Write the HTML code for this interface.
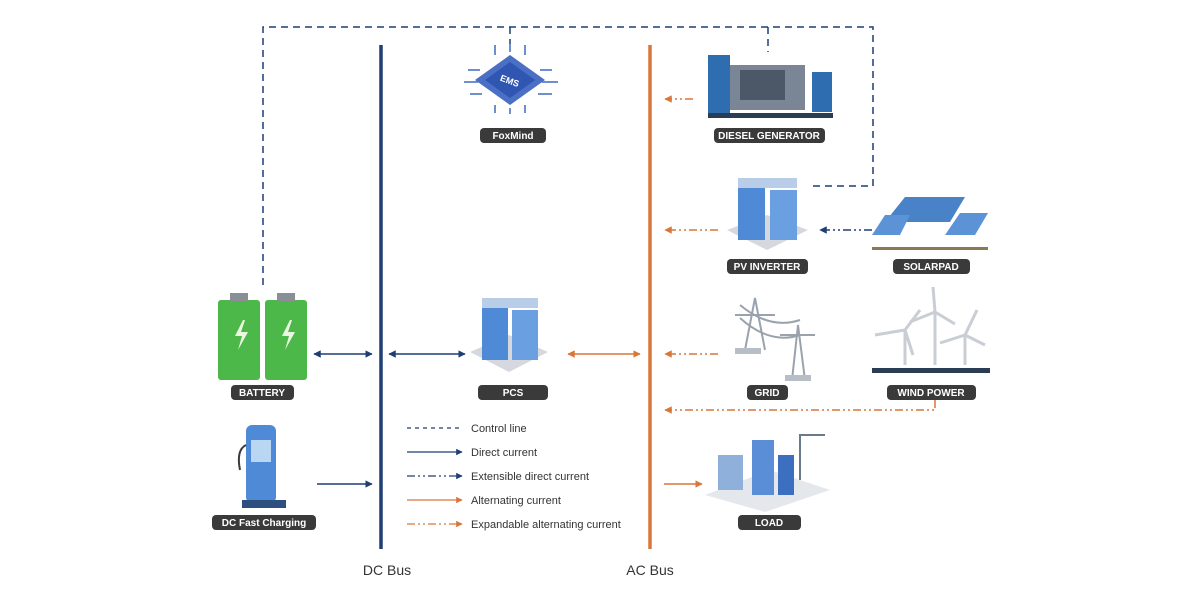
<!DOCTYPE html>
<html><head><meta charset="utf-8"><style>
html,body{margin:0;padding:0;background:#fff;}
svg{display:block;font-family:"Liberation Sans",sans-serif;}
.lb{fill:#3a3a3a;}
.lt{fill:#fff;font-size:10px;font-weight:bold;text-anchor:middle;}
.lg{fill:#333;font-size:11px;}
</style></head><body>
<svg width="1200" height="600" viewBox="0 0 1200 600" xmlns="http://www.w3.org/2000/svg">
<defs>
<marker id="an" viewBox="0 0 10 10" refX="9" refY="5" markerWidth="5" markerHeight="5" orient="auto-start-reverse"><path d="M0 0L10 5L0 10z" fill="#1f3f73"/></marker>
<marker id="ao" viewBox="0 0 10 10" refX="9" refY="5" markerWidth="5" markerHeight="5" orient="auto-start-reverse"><path d="M0 0L10 5L0 10z" fill="#d9773a"/></marker>
</defs>
<!-- control line -->
<g stroke="#1f3f73" stroke-width="1.5" fill="none" stroke-dasharray="7 5">
<path d="M263 285V27H873V186H808"/>
<path d="M510 27V52"/><path d="M768 27V52"/>
</g>
<!-- buses -->
<line x1="381" y1="45" x2="381" y2="549" stroke="#1f3f73" stroke-width="3.5"/>
<line x1="650" y1="45" x2="650" y2="549" stroke="#d9773a" stroke-width="3.5"/>
<text x="387" y="575" font-size="14" fill="#333" text-anchor="middle">DC Bus</text>
<text x="650" y="575" font-size="14" fill="#333" text-anchor="middle">AC Bus</text>
<!-- arrows -->
<g stroke-width="1.5" fill="none">
<line x1="314" y1="354" x2="372" y2="354" stroke="#1f3f73" marker-start="url(#an)" marker-end="url(#an)"/>
<line x1="389" y1="354" x2="465" y2="354" stroke="#1f3f73" marker-start="url(#an)" marker-end="url(#an)"/>
<line x1="568" y1="354" x2="640" y2="354" stroke="#d9773a" marker-start="url(#ao)" marker-end="url(#ao)"/>
<line x1="317" y1="484" x2="372" y2="484" stroke="#1f3f73" marker-end="url(#an)"/>
<line x1="664" y1="484" x2="702" y2="484" stroke="#d9773a" marker-end="url(#ao)"/>
<g stroke="#d9773a" stroke-dasharray="8 3 2 3 2 3">
<line x1="693" y1="99" x2="665" y2="99" marker-end="url(#ao)"/>
<line x1="718" y1="230" x2="665" y2="230" marker-end="url(#ao)"/>
<line x1="718" y1="354" x2="665" y2="354" marker-end="url(#ao)"/>
<path d="M935 400V410H665" marker-end="url(#ao)"/>
</g>
<line x1="872" y1="230" x2="820" y2="230" stroke="#1f3f73" stroke-dasharray="8 3 2 3 2 3" marker-end="url(#an)"/>
</g>
<!-- EMS chip -->
<g>
<g stroke="#6d8fd0" stroke-width="2" fill="none">
<path d="M480 70h-12M478 82h-14M482 94h-12M540 70h12M542 82h16M538 94h14M495 55v-10M510 52v-8M525 55v-10M495 105v8M510 108v6M525 105v8"/>
</g>
<polygon points="510,55 545,80 510,105 475,80" fill="#4a6fc4"/>
<polygon points="510,62 535,80 510,98 485,80" fill="#2f56b0"/>
<text x="510" y="84" font-size="9" fill="#fff" font-weight="bold" text-anchor="middle" transform="rotate(20 510 80)">EMS</text>
</g>
<rect x="480" y="128" width="66" height="15" rx="4" class="lb"/><text x="513" y="139" class="lt">FoxMind</text>
<!-- Diesel -->
<rect x="708" y="55" width="22" height="58" fill="#2d6db0"/>
<rect x="730" y="65" width="75" height="45" fill="#7a8696"/>
<rect x="740" y="70" width="45" height="30" fill="#4c5868"/>
<rect x="812" y="72" width="20" height="40" fill="#2d6db0"/>
<rect x="708" y="113" width="125" height="5" fill="#2a3d55"/>
<rect x="714" y="128" width="111" height="15" rx="4" class="lb"/><text x="769" y="139" class="lt">DIESEL GENERATOR</text>
<!-- PV inverter -->
<polygon points="727,230 767,250 808,230 767,215" fill="#d5d8de"/>
<rect x="738" y="185" width="27" height="55" fill="#4f8ad6"/>
<rect x="770" y="190" width="27" height="50" fill="#6aa0e2"/>
<rect x="738" y="178" width="59" height="10" fill="#b9cde8"/>
<rect x="727" y="259" width="81" height="15" rx="4" class="lb"/><text x="767" y="270" class="lt">PV INVERTER</text>
<!-- Solar -->
<polygon points="885,222 905,197 965,197 950,222" fill="#4a82c8"/>
<polygon points="872,235 885,215 910,215 900,235" fill="#5b93d6"/>
<polygon points="945,235 960,213 988,213 975,235" fill="#5b93d6"/>
<rect x="872" y="247" width="116" height="3" fill="#8a7a55"/>
<rect x="893" y="259" width="77" height="15" rx="4" class="lb"/><text x="931" y="270" class="lt">SOLARPAD</text>
<!-- Grid -->
<g stroke="#9aa3ad" stroke-width="2" fill="none">
<path d="M745 350L755 298L765 350M735 315h40M792 380L798 325L805 380M780 335h35M740 305Q770 330 800 320M740 318Q770 345 800 335"/>
</g>
<rect x="735" y="348" width="26" height="6" fill="#b8bec6"/>
<rect x="785" y="375" width="26" height="6" fill="#b8bec6"/>
<rect x="747" y="385" width="41" height="15" rx="4" class="lb"/><text x="767" y="396" class="lt">GRID</text>
<!-- Wind -->
<g stroke="#c9ced4" stroke-width="3" fill="none">
<path d="M905 365V330M905 330l-30 5M905 330l15 -20M905 330l8 25"/>
<path d="M935 365V312M935 312l-2 -25M935 312l20 12M935 312l-25 10"/>
<path d="M965 365V335M965 335l12 -25M965 335l20 10M965 335l-25 8"/>
</g>
<rect x="872" y="368" width="118" height="5" fill="#2a3d55"/>
<rect x="887" y="385" width="89" height="15" rx="4" class="lb"/><text x="931" y="396" class="lt">WIND POWER</text>
<!-- Load -->
<polygon points="705,495 765,512 830,490 770,470" fill="#e4e7ec"/>
<rect x="752" y="440" width="22" height="55" fill="#5a8fd8"/>
<rect x="778" y="455" width="16" height="40" fill="#3c6fc0"/>
<rect x="718" y="455" width="25" height="35" fill="#8fb0db"/>
<path d="M800 480V435h25" stroke="#6a7a8e" stroke-width="2" fill="none"/>
<rect x="738" y="515" width="63" height="15" rx="4" class="lb"/><text x="769" y="526" class="lt">LOAD</text>
<!-- PCS -->
<polygon points="470,352 509,372 548,352 509,335" fill="#d5d8de"/>
<rect x="482" y="305" width="26" height="55" fill="#4f8ad6"/>
<rect x="512" y="310" width="26" height="50" fill="#6aa0e2"/>
<rect x="482" y="298" width="56" height="10" fill="#b9cde8"/>
<rect x="478" y="385" width="70" height="15" rx="4" class="lb"/><text x="513" y="396" class="lt">PCS</text>
<!-- Battery -->
<rect x="218" y="300" width="42" height="80" rx="3" fill="#4cb84a"/>
<rect x="265" y="300" width="42" height="80" rx="3" fill="#4cb84a"/>
<rect x="230" y="293" width="18" height="8" fill="#8a8f95"/>
<rect x="277" y="293" width="18" height="8" fill="#8a8f95"/>
<path d="M243 320l-8 16h7l-4 14 10 -18h-7l4 -12z" fill="#e9f7e0"/>
<path d="M290 320l-8 16h7l-4 14 10 -18h-7l4 -12z" fill="#e9f7e0"/>
<rect x="231" y="385" width="63" height="15" rx="4" class="lb"/><text x="262" y="396" class="lt">BATTERY</text>
<!-- DC fast charging -->
<rect x="246" y="425" width="30" height="78" rx="6" fill="#4f8ad6"/>
<rect x="251" y="440" width="20" height="22" fill="#b9d6f2"/>
<rect x="242" y="500" width="44" height="8" fill="#2d4f80"/>
<path d="M246 445q-10 5 -6 25" stroke="#3a3a3a" stroke-width="2" fill="none"/>
<rect x="212" y="515" width="104" height="15" rx="4" class="lb"/><text x="264" y="526" class="lt">DC Fast Charging</text>
<!-- legend -->
<g stroke-width="1.3" fill="none">
<line x1="407" y1="428" x2="462" y2="428" stroke="#1f3f73" stroke-dasharray="4 4"/>
<line x1="407" y1="452" x2="462" y2="452" stroke="#1f3f73" marker-end="url(#an)"/>
<line x1="407" y1="476" x2="462" y2="476" stroke="#1f3f73" stroke-dasharray="8 3 2 3 2 3" marker-end="url(#an)"/>
<line x1="407" y1="500" x2="462" y2="500" stroke="#d9773a" marker-end="url(#ao)"/>
<line x1="407" y1="524" x2="462" y2="524" stroke="#d9773a" stroke-dasharray="8 3 2 3 2 3" marker-end="url(#ao)"/>
</g>
<text x="471" y="432" class="lg">Control line</text>
<text x="471" y="456" class="lg">Direct current</text>
<text x="471" y="480" class="lg">Extensible direct current</text>
<text x="471" y="504" class="lg">Alternating current</text>
<text x="471" y="528" class="lg">Expandable alternating current</text>
</svg>
</body></html>
